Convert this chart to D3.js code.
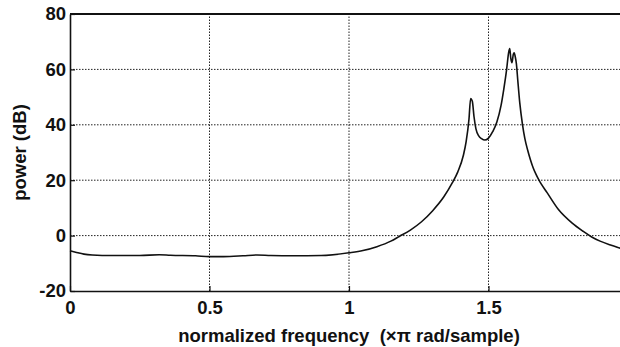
<!DOCTYPE html>
<html>
<head>
<meta charset="utf-8">
<script src="https://cdn.jsdelivr.net/npm/d3@7"></script>
<style>
html,body{margin:0;padding:0;background:#fff;}
svg{display:block;}
text{font-family:"Liberation Sans",Arial,Helvetica,sans-serif;font-weight:bold;fill:#111;}
</style>
</head>
<body>
<svg id="chart" width="620" height="347"></svg>
<script>
// normalized frequency (x pi rad/sample)
const freq = [0.00,0.02,0.05,0.08,0.15,0.25,0.32,0.36,0.45,0.50,0.55,0.62,0.67,0.72,0.80,0.90,1.00,1.05,1.10,1.15,1.18,1.22,1.26,1.30,1.34,1.37,1.39,1.41,1.42,1.43,1.436,1.442,1.448,1.455,1.465,1.475,1.487,1.50,1.515,1.53,1.545,1.555,1.565,1.572,1.576,1.58,1.584,1.589,1.592,1.596,1.60,1.605,1.612,1.622,1.63,1.64,1.65,1.66,1.67,1.68,1.69,1.71,1.75,1.80,1.84,1.87,1.90,1.94,1.98,2.00];
// power (dB)
const power = [-5.5,-6.0,-6.7,-7.0,-7.2,-7.2,-6.9,-7.1,-7.3,-7.6,-7.6,-7.3,-7.0,-7.2,-7.3,-7.2,-6.2,-5.4,-4.0,-2.0,-0.3,2.0,5.0,9.0,14.0,19.0,23.0,29.0,34.0,42.0,49.5,48.5,43.0,38.5,36.0,35.0,34.5,35.2,37.5,41.0,47.0,53.0,60.0,66.0,67.5,64.0,62.4,65.5,66.0,64.5,62.0,56.0,48.0,40.0,35.2,31.0,27.5,24.5,22.2,20.2,18.5,15.5,9.5,4.5,1.5,-0.5,-2.0,-3.5,-4.8,-5.5];
const xTicks = [0, 0.5, 1, 1.5];
const xTickLabels = ["0", "0.5", "1", "1.5"];
const yTicks = [-20, 0, 20, 40, 60, 80];
const yTickLabels = ["-20", "0", "20", "40", "60", "80"];
const xLabel = "normalized frequency \u00a0(\u00d7\u03c0 rad/sample)";
const yLabel = "power (dB)";

const svg = d3.select("#chart");
const x = d3.scaleLinear().domain([0, 2]).range([70, 628]);
const y = d3.scaleLinear().domain([-20, 80]).range([291, 14]);

const data = freq.map((f, i) => ({f, p: power[i]}));

// grid
const grid = svg.append("g");
grid.selectAll("line.gy").data(yTicks.filter(v => v > -20 && v < 80)).join("line")
  .attr("x1", x(0)).attr("x2", x(2)).attr("y1", d => y(d)).attr("y2", d => y(d))
  .attr("stroke", "#222").attr("stroke-width", 1).attr("stroke-dasharray", "1.5,1.5");
grid.selectAll("line.gx").data(xTicks.filter(v => v > 0 && v < 2)).join("line")
  .attr("y1", y(-20)).attr("y2", y(80)).attr("x1", d => x(d)).attr("x2", d => x(d))
  .attr("stroke", "#222").attr("stroke-width", 1).attr("stroke-dasharray", "1.5,1.5");

// axes
const xAxis = d3.axisBottom(x).tickValues(xTicks).tickFormat((d, i) => xTickLabels[i]).tickSizeInner(-5).tickSizeOuter(0).tickPadding(10);
const gx = svg.append("g").attr("transform", `translate(0,${y(-20)})`).call(xAxis);
gx.select(".domain").attr("stroke", "#111").attr("stroke-width", 1.6);
gx.selectAll(".tick line").attr("stroke", "#111").attr("stroke-width", 1.2);
gx.selectAll(".tick text").attr("font-size", 18.5).attr("font-family", null).attr("fill", "#111");

const yAxis = d3.axisLeft(y).tickValues(yTicks).tickFormat((d, i) => yTickLabels[i]).tickSizeInner(-5).tickSizeOuter(0).tickPadding(4);
const gy = svg.append("g").attr("transform", `translate(${x(0)},0)`).call(yAxis);
gy.select(".domain").attr("stroke", "#111").attr("stroke-width", 1.6);
gy.selectAll(".tick line").attr("stroke", "#111").attr("stroke-width", 1.2);
gy.selectAll(".tick text").attr("font-size", 18.5).attr("font-family", null).attr("fill", "#111");

// top border
svg.append("line").attr("x1", x(0)).attr("x2", x(2)).attr("y1", y(80)).attr("y2", y(80))
  .attr("stroke", "#111").attr("stroke-width", 2);

// curve
const line = d3.line().x(d => x(d.f)).y(d => y(d.p)).curve(d3.curveMonotoneX);
svg.append("path").datum(data).attr("d", line)
  .attr("fill", "none").attr("stroke", "#111").attr("stroke-width", 1.6).attr("stroke-linejoin", "round");

// labels
svg.append("text").attr("x", x(1)).attr("y", 342).attr("text-anchor", "middle")
  .attr("font-size", 18.5).text(xLabel);
svg.append("text").attr("transform", `translate(26,${(y(-20) + y(80)) / 2}) rotate(-90)`)
  .attr("text-anchor", "middle").attr("font-size", 18.5).text(yLabel);
</script>
</body>
</html>
